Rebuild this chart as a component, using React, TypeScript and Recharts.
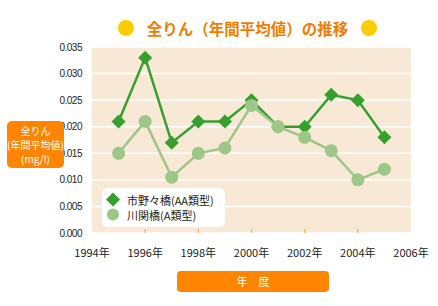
import React from "react"
import { LineChart, Line, XAxis, YAxis, CartesianGrid } from "recharts"

const years = [1995, 1996, 1997, 1998, 1999, 2000, 2001, 2002, 2003, 2004, 2005]
const ichinonobashi = [0.021, 0.033, 0.017, 0.021, 0.021, 0.025, 0.020, 0.020, 0.026, 0.025, 0.018]
const kawasekibashi = [0.015, 0.021, 0.0105, 0.015, 0.016, 0.024, 0.020, 0.018, 0.0155, 0.010, 0.012]
const xTicks = [1994, 1996, 1998, 2000, 2002, 2004, 2006]
const yTicks = [0, 0.005, 0.01, 0.015, 0.02, 0.025, 0.03, 0.035]
const seriesNames = ["市野々橋(AA類型)", "川関橋(A類型)"]

const data = years.map((year, i) => ({
  year,
  a: ichinonobashi[i],
  b: kawasekibashi[i],
}))

const GREEN = "#35a02e"
const LIGHT = "#9cc787"
const ORANGE = "#ff8400"

const Diamond = (props: any) => {
  const { cx, cy, index } = props
  if (cx == null || cy == null) return <g key={index} />
  const r = 7
  return (
    <polygon
      key={index}
      points={`${cx},${cy - r} ${cx + r},${cy} ${cx},${cy + r} ${cx - r},${cy}`}
      fill={GREEN}
    />
  )
}

const Dot = (props: any) => {
  const { cx, cy, index } = props
  if (cx == null || cy == null) return <g key={index} />
  return <circle key={index} cx={cx} cy={cy} r={6.5} fill={LIGHT} />
}

const XTick = (props: any) => {
  const { x, y, payload } = props
  const inner = payload.value !== 1994 && payload.value !== 2006
  return (
    <g>
      {inner && <line x1={x} x2={x} y1={y - 4} y2={y} stroke="#f7b25e" strokeWidth={1.2} />}
      <text x={x} y={y + 24} textAnchor="middle" fontSize={11} fill="#222" fontFamily="'Noto Sans CJK JP', sans-serif">
        {payload.value}年
      </text>
    </g>
  )
}

const LegendBox = () => (
  <div
    style={{
      position: "absolute",
      left: 102,
      top: 188,
      width: 123,
      height: 39,
      background: "#fff",
      borderRadius: 6,
      boxSizing: "border-box",
      padding: "4px 0 0 4px",
      fontFamily: "'Noto Sans CJK JP', sans-serif",
      fontSize: 11,
      color: "#222",
    }}
  >
    {seriesNames.map((name, i) => (
      <div key={name} style={{ display: "flex", alignItems: "center", height: 15 }}>
        <svg width={18} height={15}>
          {i === 0 ? (
            <polygon points="7,0.5 14,7.5 7,14.5 0,7.5" fill={GREEN} />
          ) : (
            <circle cx={7} cy={7.5} r={6} fill={LIGHT} />
          )}
        </svg>
        <span style={{ marginLeft: 3 }}>{name}</span>
      </div>
    ))}
  </div>
)

export default function App() {
  return (
    <div style={{ position: "absolute", left: 0, top: 0, width: 438, height: 306, background: "#fff" }}>
      <LineChart
        width={438}
        height={306}
        data={data}
        margin={{ top: 47, right: 27, left: 52, bottom: 53 }}
      >
        <CartesianGrid vertical={false} fill="#f8e9d6" stroke="#fff" strokeWidth={1.5} />
        <XAxis
          dataKey="year"
          type="number"
          domain={[1994, 2006]}
          ticks={xTicks}
          axisLine={false}
          tickLine={false}
          tickSize={0}
          tickMargin={0}
          height={20}
          tick={<XTick />}
          interval={0}
        />
        <YAxis
          type="number"
          domain={[0, 0.035]}
          ticks={yTicks}
          width={40}
          axisLine={false}
          tickLine={false}
          tickMargin={4}
          tickFormatter={(v: number) => v.toFixed(3)}
          tick={{ fontSize: 10, fill: "#222", fontFamily: "'Liberation Sans Narrow', 'Liberation Sans', sans-serif", letterSpacing: -0.5 }}
          interval={0}
        />
        <Line
          dataKey="a"
          stroke={GREEN}
          strokeWidth={2.5}
          dot={<Diamond />}
          activeDot={false}
          isAnimationActive={false}
        />
        <Line
          dataKey="b"
          stroke={LIGHT}
          strokeWidth={2.5}
          dot={<Dot />}
          activeDot={false}
          isAnimationActive={false}
        />
      </LineChart>

      <LegendBox />

      {/* title */}
      <div style={{ position: "absolute", left: 118, top: 20, width: 16, height: 16, borderRadius: 8, background: "#ffcc00" }} />
      <div style={{ position: "absolute", left: 361, top: 20, width: 16, height: 16, borderRadius: 8, background: "#ffcc00" }} />
      <div
        style={{
          position: "absolute",
          left: 140,
          top: 17,
          width: 215,
          textAlign: "center",
          fontSize: 15.5,
          lineHeight: "22px",
          fontWeight: "bold",
          color: "#f07d00",
          fontFamily: "'Noto Sans CJK JP', sans-serif",
        }}
      >
        全りん（年間平均値）の推移
      </div>

      {/* y label */}
      <div
        style={{
          position: "absolute",
          left: 7,
          top: 121,
          width: 57,
          height: 47,
          borderRadius: 5,
          background: ORANGE,
          color: "#fff",
          fontSize: 10,
          lineHeight: "14px",
          textAlign: "center",
          paddingTop: 3,
          boxSizing: "border-box",
          fontFamily: "'Noto Sans CJK JP', sans-serif",
        }}
      >
        全りん
        <br />
        (年間平均値)
        <br />
        (mg/l)
      </div>

      {/* x label */}
      <div
        style={{
          position: "absolute",
          left: 177,
          top: 271,
          width: 152,
          height: 21,
          borderRadius: 4,
          background: ORANGE,
          color: "#fff",
          fontSize: 11,
          lineHeight: "21px",
          textAlign: "center",
          fontFamily: "'Noto Sans CJK JP', sans-serif",
        }}
      >
        年　度
      </div>
    </div>
  )
}
